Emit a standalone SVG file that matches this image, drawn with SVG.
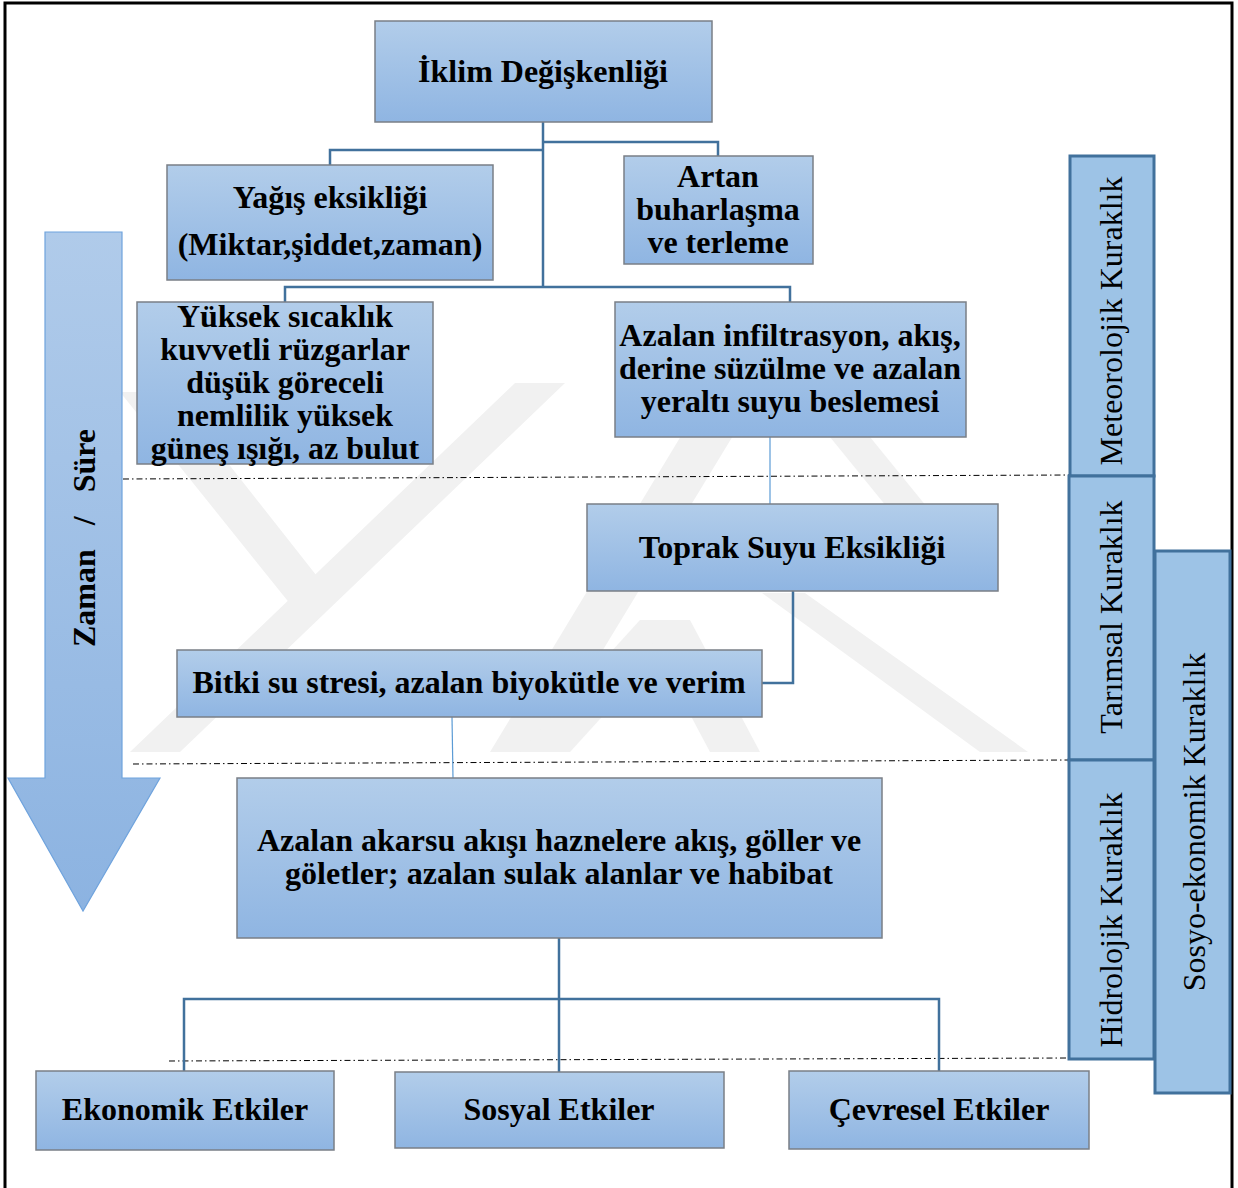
<svg xmlns="http://www.w3.org/2000/svg" width="1238" height="1188" viewBox="0 0 1238 1188">
<defs>
<linearGradient id="g" x1="0" y1="0" x2="0" y2="1">
<stop offset="0" stop-color="#b2cdea"/>
<stop offset="1" stop-color="#8fb5e2"/>
</linearGradient>
<linearGradient id="ga" x1="0" y1="0" x2="0" y2="1">
<stop offset="0" stop-color="#b0cbea"/>
<stop offset="1" stop-color="#8cb3e1"/>
</linearGradient>
<style>
.box{fill:url(#g);stroke:#7a7f86;stroke-width:1.5}
.side{fill:#9dc3e6;stroke:#41719c;stroke-width:3}
.t{font-family:"Liberation Serif","Times New Roman",serif;font-weight:bold;font-size:32px;fill:#000;text-anchor:middle}
.s{font-family:"Liberation Serif","Times New Roman",serif;font-size:32px;fill:#000;text-anchor:middle}
.c{fill:none;stroke:#41719c;stroke-width:2.5}
.cl{fill:none;stroke:#5b9bd5;stroke-width:1.2}
.d{fill:none;stroke:#000;stroke-width:1;stroke-dasharray:6 3 1.5 3}
.wm{fill:#f1f1f1}
</style>
</defs>
<rect width="1238" height="1188" fill="#fff"/>
<g id="watermark">
<polygon class="wm" points="515,383 565,383 180,752 130,752"/>
<polygon class="wm" points="120,392 172,392 320,580 295,610"/>
<polygon class="wm" points="713,383 765,383 541,752 490,752"/>
<polygon class="wm" points="762,593 805,593 1028,752 980,752"/>
<polygon class="wm" points="640,620 690,620 570,752 520,752"/>
<polygon class="wm" points="640,620 690,620 760,752 710,752"/>
<polygon class="wm" points="830,437 870,437 970,560 930,560"/>
</g>
<g id="frame" fill="none" stroke="#000" stroke-width="3">
<polyline points="5,1188 5,3 1232,3 1232,1188"/>
</g>
<g id="time-arrow">
<polygon points="45,232 122,232 122,778 160,778 83,911 8,778 45,778" fill="url(#ga)" stroke="#6fa3dd" stroke-width="1.2"/>
<text class="t" transform="translate(95,538) rotate(-90)" xml:space="preserve">Zaman   /   Süre</text>
</g>
<g id="dividers">
<line class="d" x1="123" y1="479" x2="1070" y2="475"/>
<line class="d" x1="133" y1="764" x2="1070" y2="760"/>
<line class="d" x1="169" y1="1061" x2="1070" y2="1058"/>
</g>
<g id="connectors">
<polyline class="c" points="543,122 543,287"/>
<polyline class="c" points="543,150 330,150 330,165"/>
<polyline class="c" points="543,142 718,142 718,156"/>
<polyline class="c" points="285,302 285,287 790,287 790,302"/>
<line class="cl" x1="770" y1="437" x2="770" y2="504"/>
<polyline class="c" points="793,591 793,683 762,683"/>
<line class="cl" x1="452" y1="717" x2="453" y2="778"/>
<polyline class="c" points="559,938 559,1072"/>
<polyline class="c" points="184,1071 184,999 939,999 939,1071"/>
</g>
<g id="n-iklim">
<rect class="box" x="375" y="21" width="337" height="101"/>
<text class="t" x="543" y="82">İklim Değişkenliği</text>
</g>
<g id="n-yagis">
<rect class="box" x="167" y="165" width="326" height="115"/>
<text class="t" x="330" y="208">Yağış eksikliği</text>
<text class="t" x="330" y="255">(Miktar,şiddet,zaman)</text>
</g>
<g id="n-artan">
<rect class="box" x="624" y="156" width="189" height="108"/>
<text class="t" x="718" y="187">Artan</text>
<text class="t" x="718" y="220">buharlaşma</text>
<text class="t" x="718" y="253">ve terleme</text>
</g>
<g id="n-yuksek">
<rect class="box" x="137" y="302" width="296" height="162"/>
<text class="t" x="285" y="327">Yüksek sıcaklık</text>
<text class="t" x="285" y="360">kuvvetli rüzgarlar</text>
<text class="t" x="285" y="393">düşük göreceli</text>
<text class="t" x="285" y="426">nemlilik yüksek</text>
<text class="t" x="285" y="459">güneş ışığı, az bulut</text>
</g>
<g id="n-azalan-inf">
<rect class="box" x="615" y="302" width="351" height="135"/>
<text class="t" x="790" y="346">Azalan infiltrasyon, akış,</text>
<text class="t" x="790" y="379">derine süzülme ve azalan</text>
<text class="t" x="790" y="412">yeraltı suyu beslemesi</text>
</g>
<g id="n-toprak">
<rect class="box" x="587" y="504" width="411" height="87"/>
<text class="t" x="792" y="558">Toprak Suyu Eksikliği</text>
</g>
<g id="n-bitki">
<rect class="box" x="177" y="650" width="585" height="67"/>
<text class="t" x="469" y="693">Bitki su stresi, azalan biyokütle ve verim</text>
</g>
<g id="n-akarsu">
<rect class="box" x="237" y="778" width="645" height="160"/>
<text class="t" x="559" y="851">Azalan akarsu akışı haznelere akış, göller ve</text>
<text class="t" x="559" y="884">göletler; azalan sulak alanlar ve habibat</text>
</g>
<g id="n-ekonomik">
<rect class="box" x="36" y="1071" width="298" height="79"/>
<text class="t" x="185" y="1120">Ekonomik Etkiler</text>
</g>
<g id="n-sosyal">
<rect class="box" x="395" y="1072" width="329" height="76"/>
<text class="t" x="559" y="1120">Sosyal Etkiler</text>
</g>
<g id="n-cevresel">
<rect class="box" x="789" y="1071" width="300" height="78"/>
<text class="t" x="939" y="1120">Çevresel Etkiler</text>
</g>
<g id="n-meteorolojik">
<rect class="side" x="1070" y="156" width="84" height="320"/>
<text class="s" transform="translate(1122,321) rotate(-90)">Meteorolojik Kuraklık</text>
</g>
<g id="n-tarimsal">
<rect class="side" x="1069" y="476" width="85" height="284"/>
<text class="s" transform="translate(1122,617) rotate(-90)">Tarımsal Kuraklık</text>
</g>
<g id="n-hidrolojik">
<rect class="side" x="1069" y="760" width="85" height="299"/>
<text class="s" transform="translate(1122,920) rotate(-90)">Hidrolojik Kuraklık</text>
</g>
<g id="n-sosyo">
<rect class="side" x="1155" y="551" width="75" height="542"/>
<text class="s" transform="translate(1205,822) rotate(-90)">Sosyo-ekonomik Kuraklık</text>
</g>
</svg>
